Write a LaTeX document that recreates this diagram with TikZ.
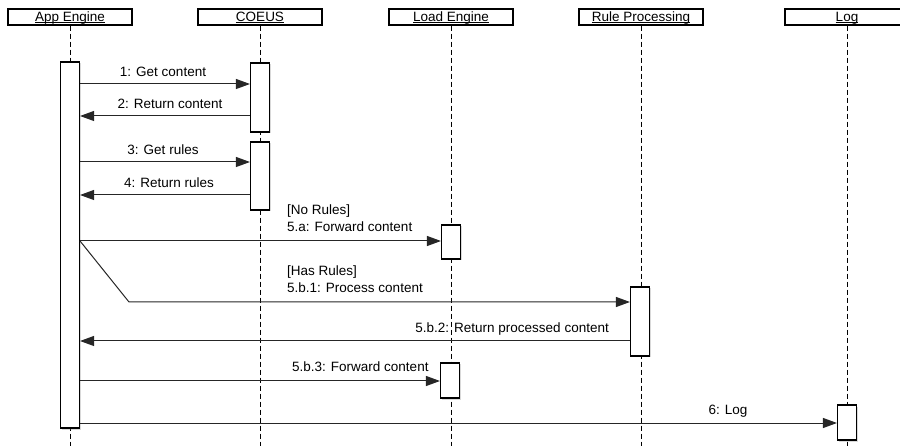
\documentclass[tikz,border=0pt]{standalone}
\usepackage{fontspec}
\setmainfont{Liberation Sans}
\usetikzlibrary{arrows.meta,shadows}
\newcommand\hdrtext[1]{\setbox0\hbox{#1}\rlap{\rule[-1.5pt]{\wd0}{0.8pt}}\box0}
\begin{document}
\begin{tikzpicture}[x=1pt, y=-1pt,
  every node/.style={font=\fontsize{13.5}{15}\selectfont, text=black},
  actor/.style={draw, line width=1.1pt, fill=white, minimum width=124pt, minimum height=16pt, inner sep=0pt,
    text height=11pt, text depth=2pt,
    drop shadow={shadow xshift=1.2pt, shadow yshift=-1.5pt, opacity=.3}},
  act/.style={draw, line width=1.1pt, fill=white, minimum width=19pt, inner sep=0pt,
    drop shadow={shadow xshift=1.2pt, shadow yshift=-1.5pt, opacity=.3}},
  life/.style={dash pattern=on 5pt off 3pt, line width=.8pt, black},
  msg/.style={black!85, line width=1pt, -{Triangle[length=14pt,width=10pt]}},
  lbl/.style={inner sep=0pt}]
\useasboundingbox (0,0) rectangle (900,446);
% participants
\node[actor] (app) at (70,17) {\hdrtext{App Engine}};
\node[actor] (coeus) at (260,17) {\hdrtext{COEUS}};
\node[actor] (load) at (451,17) {\hdrtext{Load Engine}};
\node[actor] (rule) at (641,17) {\hdrtext{Rule Processing}};
\node[actor] (log) at (847,17) {\hdrtext{Log}};
\coordinate (bot) at (0,446);
\foreach \p in {app,coeus,load,rule,log}
  \draw[life] (\p.south) -- (\p.south |- bot);
% activations
\node[act, minimum height=366pt] (appact) at (70,245) {};
\node[act, minimum height=69pt] (coeusA) at (260,97.5) {};
\node[act, minimum height=68pt] (coeusB) at (260,176) {};
\node[act, minimum height=34pt] (loadA) at (451,242) {};
\node[act, minimum height=69pt] (ruleact) at (640,321.5) {};
\node[act, minimum height=35pt] (loadB) at (450,380.5) {};
\node[act, minimum height=35pt] (logact) at (847,422.5) {};
% messages
\draw[msg] (appact.east |- 0,84) -- (coeusA.west |- 0,84);
\draw[msg] (coeusA.west |- 0,116) -- (appact.east |- 0,116);
\draw[msg] (appact.east |- 0,162) -- (coeusB.west |- 0,162);
\draw[msg] (coeusB.west |- 0,195) -- (appact.east |- 0,195);
\draw[msg] (appact.east |- 0,241) -- (loadA.west |- 0,241);
\draw[msg] (appact.east |- 0,241) -- (129,302) -- (ruleact.west |- 0,302);
\draw[msg] (ruleact.west |- 0,341) -- (appact.east |- 0,341);
\draw[msg] (appact.east |- 0,381) -- (loadB.west |- 0,381);
\draw[msg] (appact.east |- 0,423) -- (logact.west |- 0,423);
% labels
\node[lbl] (l1) at (163,72) {1: Get content};
\node[lbl] (l2) at (170,104) {2: Return content};
\node[lbl] (l3) at (163,150) {3: Get rules};
\node[lbl] (l4) at (169,183) {4: Return rules};
\node[lbl, anchor=west] (l5a) at (287,211) {[No Rules]};
\node[lbl, anchor=west] (l5b) at (287,227) {5.a: Forward content};
\node[lbl, anchor=west] (l6a) at (287,272) {[Has Rules]};
\node[lbl, anchor=west] (l6b) at (287,288) {5.b.1: Process content};
\node[lbl, anchor=east] (l7) at (609,329) {5.b.2: Return processed content};
\node[lbl, anchor=west] (l8) at (292,367) {5.b.3: Forward content};
\node[lbl] (l9) at (728,411) {6: Log};
\end{tikzpicture}
\end{document}
